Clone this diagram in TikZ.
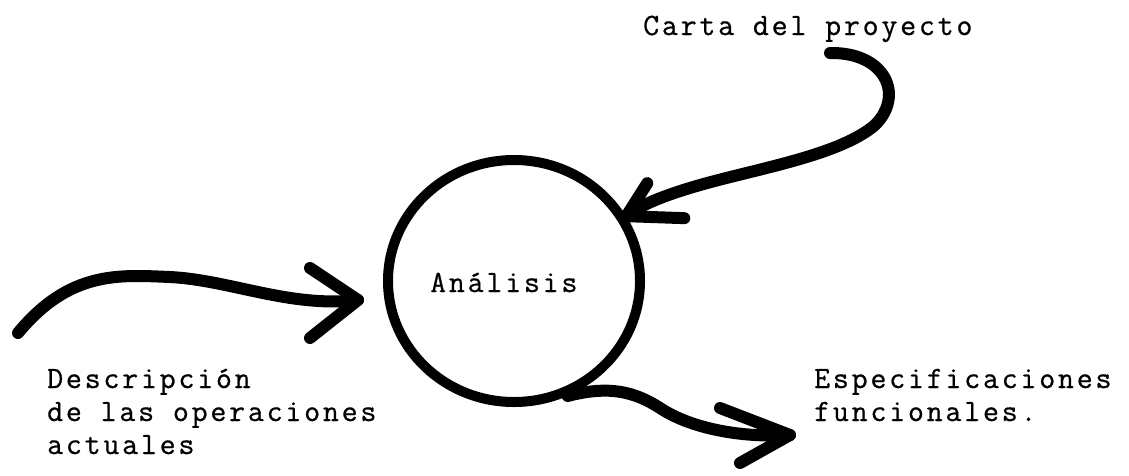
\documentclass[tikz,border=0pt]{standalone}
\usepackage{fontspec}
\usepackage{tikz}
\usetikzlibrary{shapes.geometric}
\usetikzlibrary{positioning}
\newfontfamily\typewriter[LetterSpace=9,FakeBold=0.7]{Latin Modern Mono}

\begin{document}
\begin{tikzpicture}[
	x=1pt, y=-1pt,
	line cap=round,
	line join=round,
	font=\typewriter\fontsize{31}{33}\selectfont
]
\tikzset{
    bubble/.style = {ellipse, draw=black, line width=10pt, minimum width=252pt, minimum height=242pt, inner sep=0pt},
		flowline/.style = {draw=black, line width=12pt},
		labeltext/.style = {inner sep=0pt, anchor=base west, align=left}
}
\useasboundingbox (0,0) rectangle (1129,475);

\node[bubble] (proc) at (514,281) {};
\node[labeltext] (procname) at (430,292) {Análisis};
\node[labeltext] (charter) at (643,35) {Carta del proyecto};
% base anchor sits on the last line
\node[labeltext] (current) at (47,454) {Descripción\\de las operaciones\\actuales};
\node[labeltext] (specs) at (814,421) {Especificaciones\\funcionales.};

\coordinate (charterin) at (830,53);
\coordinate (currentin) at (18,333);
\coordinate (currenttip) at (358,300);
\coordinate (specstip) at (790,435);

% carta -> analisis
\draw[flowline] (charterin) .. controls (885,52) and (905,95) .. (875,125)
  .. controls (840,155) and (760,168) .. (700,185)
  .. controls (665,195) and (640,205) .. (proc.30);
\draw[flowline] (proc.30) +(21,-33) -- (proc.30) -- +(58,2);

% descripcion -> analisis
\draw[flowline] (currentin) .. controls (70,270) and (120,275) .. (170,277)
  .. controls (230,280) and (290,308) .. (currenttip);
\draw[flowline] (currenttip) +(-48,-32) -- (currenttip) -- +(-48,38);

% analisis -> especificaciones
\draw[flowline] (proc.-65) .. controls (610,385) and (635,392) .. (660,408)
  .. controls (690,428) and (740,438) .. (specstip);
\draw[flowline] (specstip) +(-70,-27) -- (specstip) -- +(-50,28);
\end{tikzpicture}
\end{document}
